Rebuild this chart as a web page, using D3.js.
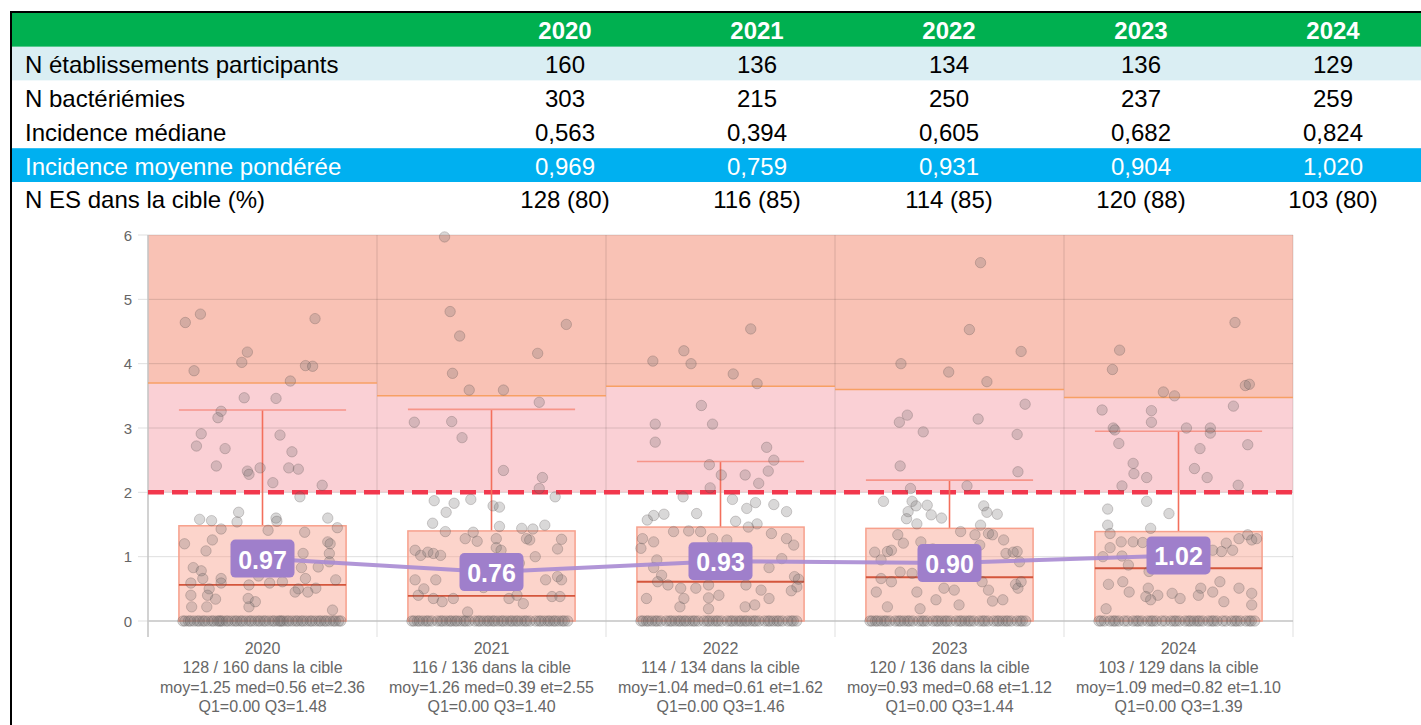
<!DOCTYPE html>
<html>
<head>
<meta charset="utf-8">
<script src="https://cdn.jsdelivr.net/npm/d3@7"></script>
<style>
  html, body { margin: 0; padding: 0; background: #fff; }
  svg { display: block; }
</style>
</head>
<body>
<svg id="chart" width="1421" height="725"></svg>
<script>
// ---- Summary table ----
const years = ["2020", "2021", "2022", "2023", "2024"];
const nEtablissements = [160, 136, 134, 136, 129];
const nBacteriemies = [303, 215, 250, 237, 259];
const incidenceMediane = [0.563, 0.394, 0.605, 0.682, 0.824];
const incidenceMoyPonderee = [0.969, 0.759, 0.931, 0.904, 1.020];
const nDansCible = [128, 116, 114, 120, 103];
const pctDansCible = [80, 85, 85, 88, 80];

// ---- Per-year distribution statistics ----
const statMoy = [1.25, 1.26, 1.04, 0.93, 1.09];
const statMed = [0.56, 0.39, 0.61, 0.68, 0.82];
const statEt = [2.36, 2.55, 1.62, 1.12, 1.10];
const statQ1 = [0.00, 0.00, 0.00, 0.00, 0.00];
const statQ3 = [1.48, 1.40, 1.46, 1.44, 1.39];
const whiskerHigh = [3.28, 3.29, 2.48, 2.19, 2.95];
const targetThreshold = 2;
const yTicks = [0, 1, 2, 3, 4, 5, 6];

// ---- Establishments (non-zero incidence): [jitter in box half-width, incidence] ----
const points2020 = [[-0.97,4.64],[-0.78,4.77],[0.66,4.70],[-0.19,4.18],[-0.26,4.02],[-0.86,3.89],[0.54,3.97],[0.63,3.96],[0.35,3.73],
  [-0.23,3.47],[0.17,3.46],[-0.52,3.26],[-0.56,3.16],[-0.77,2.91],[-0.83,2.72],[-0.47,2.68],[0.22,2.89],[0.37,2.63],[-0.58,2.41],
  [-0.19,2.33],[-0.17,2.28],[-0.03,2.38],[0.33,2.38],[0.45,2.36],[0.13,2.15],[0.75,2.11],[0.47,1.93],[-0.79,1.58],[-0.64,1.56],
  [-0.30,1.69],[-0.32,1.54],[0.17,1.60],[0.18,1.55],[0.82,1.60],[0.94,1.45],[-0.52,1.43],[0.07,1.41],[0.53,1.38],[-0.98,1.20],
  [-0.63,1.26],[-0.71,1.09],[0.82,1.23],[0.85,1.20],[0.84,1.05],[-0.87,0.83],[-0.77,0.78],[-0.75,0.66],[-0.52,0.66],[-0.52,0.59],
  [-0.90,0.59],[-0.90,0.40],[-0.89,0.22],[-0.67,0.50],[-0.69,0.40],[-0.59,0.34],[-0.70,0.22],[-0.17,0.56],[-0.18,0.35],[-0.09,0.30],
  [-0.17,0.22],[0.09,0.59],[0.25,0.61],[0.27,0.77],[0.49,0.83],[0.54,0.66],[0.45,0.50],[0.41,0.45],[0.57,0.45],[0.67,0.51],
  [0.70,0.84],[0.92,0.64],[0.88,0.17],[0.84,0.92],[0.51,1.05],[0.26,1.06],[-0.30,0.98],[-0.05,0.70]];
const points2021 = [[-0.59,5.97],[-0.52,4.81],[0.94,4.61],[-0.40,4.43],[0.58,4.16],[-0.49,3.85],[-0.28,3.59],[0.15,3.59],[0.60,3.40],
  [-0.97,3.09],[-0.50,3.10],[-0.37,2.85],[0.15,2.34],[0.64,2.23],[0.60,2.06],[0.80,1.93],[-0.72,1.87],[-0.26,1.89],[-0.47,1.83],
  [-0.57,1.69],[-0.74,1.52],[0.02,1.79],[0.10,1.77],[0.10,1.47],[0.38,1.44],[0.52,1.43],[0.67,1.49],[-0.58,1.39],[-0.23,1.38],
  [-0.33,1.28],[-0.18,1.24],[0.06,1.28],[0.06,1.14],[0.44,1.28],[0.48,1.26],[0.88,1.27],[-0.96,1.10],[-0.89,1.02],[-0.80,1.07],
  [-0.73,1.05],[-0.64,1.02],[0.83,1.12],[0.12,1.10],[-0.96,0.64],[-0.70,0.64],[0.68,0.64],[0.83,0.69],[0.88,0.64],[-0.85,0.50],
  [-0.92,0.40],[-0.73,0.35],[-0.62,0.30],[-0.48,0.35],[0.22,0.35],[0.32,0.40],[0.40,0.27],[0.76,0.38],[0.86,0.38],[-0.30,0.14],
  [0.35,0.90],[0.55,1.00],[-0.10,0.52]];
const points2022 = [[0.38,4.54],[-0.46,4.20],[-0.85,4.04],[-0.37,4.00],[0.16,3.84],[0.46,3.69],[-0.24,3.35],[-0.82,3.06],[-0.10,3.06],
  [-0.82,2.78],[0.58,2.70],[0.67,2.50],[-0.14,2.43],[0.01,2.27],[0.31,2.27],[0.60,2.33],[0.48,2.14],[-0.13,2.07],[-0.47,1.93],
  [0.15,1.89],[0.33,1.75],[0.44,1.84],[0.67,1.81],[0.83,1.70],[-0.30,1.67],[-0.71,1.66],[-0.84,1.64],[-0.92,1.57],[0.19,1.55],
  [0.46,1.51],[0.35,1.46],[-0.59,1.39],[-0.40,1.40],[-0.25,1.39],[-0.98,1.28],[-0.84,1.23],[-0.10,1.28],[0.08,1.26],[0.64,1.36],
  [0.83,1.28],[0.92,1.18],[-1.00,1.13],[-0.80,0.95],[-0.84,0.83],[-0.74,0.71],[0.61,0.83],[0.77,0.97],[0.93,0.69],[0.98,0.65],
  [0.96,0.53],[-0.79,0.61],[-0.66,0.56],[-0.50,0.51],[-0.31,0.51],[-0.15,0.56],[0.32,0.56],[0.51,0.48],[-0.93,0.35],[-0.46,0.35],
  [-0.15,0.36],[-0.02,0.40],[0.61,0.35],[-0.51,0.22],[-0.15,0.19],[0.31,0.22],[0.43,0.25],[0.89,0.47],[0.06,0.87]];
const points2023 = [[0.39,5.57],[0.25,4.53],[0.90,4.19],[-0.61,4.00],[-0.01,3.87],[0.47,3.72],[0.95,3.37],[-0.53,3.20],[-0.63,3.09],
  [0.36,3.14],[-0.33,2.94],[0.85,2.90],[-0.62,2.41],[0.86,2.32],[-0.49,2.06],[0.22,2.10],[-0.83,1.86],[-0.47,1.86],[-0.52,1.70],
  [-0.42,1.79],[-0.28,1.80],[-0.23,1.65],[-0.10,1.60],[-0.41,1.51],[-0.54,1.59],[0.43,1.79],[0.60,1.66],[0.47,1.69],[0.39,1.49],
  [0.49,1.36],[0.54,1.34],[0.68,1.26],[0.71,1.05],[0.80,1.07],[0.88,0.92],[0.85,1.08],[-0.94,1.07],[-0.86,0.95],[-0.73,1.10],
  [-0.65,1.34],[-0.78,1.08],[-0.58,1.21],[-0.36,1.23],[-0.21,1.12],[0.14,1.39],[0.32,1.34],[0.38,1.18],[-0.86,0.66],[-0.73,0.61],
  [-0.92,0.45],[-0.78,0.22],[-0.37,0.19],[-0.17,0.33],[-0.07,0.51],[0.06,0.48],[0.41,0.61],[0.49,0.48],[0.54,0.31],[0.83,0.57],
  [0.86,0.51],[0.90,0.61],[0.67,0.33],[0.12,0.25],[-0.47,0.74],[-0.62,0.76],[-0.41,0.45]];
const points2024 = [[0.71,4.64],[-0.74,4.21],[-0.83,3.91],[-0.19,3.56],[-0.05,3.50],[0.84,3.66],[0.89,3.68],[-0.96,3.28],[-0.34,3.27],
  [-0.34,3.09],[0.69,3.34],[-0.82,3.00],[0.10,3.00],[0.40,3.00],[-0.80,2.97],[0.40,2.92],[-0.75,2.76],[0.27,2.68],[0.87,2.74],
  [-0.57,2.45],[-0.56,2.29],[-0.40,2.23],[0.20,2.37],[0.36,2.23],[-0.71,2.10],[0.75,2.11],[-0.40,1.86],[-0.89,1.74],[-0.12,1.67],
  [-0.89,1.49],[-0.86,1.36],[-0.72,1.23],[-0.86,1.14],[-0.35,1.44],[-0.57,1.23],[-0.45,1.22],[0.60,1.21],[0.76,1.28],[0.87,1.34],
  [0.92,1.26],[0.98,1.28],[0.54,1.08],[0.68,1.10],[0.43,1.10],[0.29,0.92],[-0.71,1.01],[-0.95,1.00],[-0.63,0.87],[-0.37,0.77],
  [-0.88,0.57],[-0.70,0.61],[-0.62,0.45],[-0.38,0.51],[-0.26,0.40],[-0.35,0.33],[0.28,0.51],[0.25,0.40],[0.43,0.45],[0.52,0.61],
  [0.76,0.51],[0.92,0.43],[0.02,0.35],[-0.08,0.43],[-0.91,0.19],[-0.41,0.38],[0.57,0.30],[0.92,0.25]];
const pointsByYear = [points2020, points2021, points2022, points2023, points2024];
const zeroCounts = [58, 52, 50, 48, 44];

// ---- Layout ----
const svg = d3.select("#chart");
const W = 1421;
const fmtFr = (v, d) => v.toFixed(d).replace(".", ",");

// table
const colX = d3.scalePoint().domain(years).range([565, 1333]);
const rowTop = 13, rowH = 33.8;
const tableRows = [
  { label: "N établissements participants", values: nEtablissements.map(String), fill: "#daeef3", color: "#000" },
  { label: "N bactériémies", values: nBacteriemies.map(String), fill: "#ffffff", color: "#000" },
  { label: "Incidence médiane", values: incidenceMediane.map(v => fmtFr(v, 3)), fill: "#ffffff", color: "#000" },
  { label: "Incidence moyenne pondérée", values: incidenceMoyPonderee.map(v => fmtFr(v, 3)), fill: "#00b0f0", color: "#fff" },
  { label: "N ES dans la cible (%)", values: nDansCible.map((n, i) => `${n} (${pctDansCible[i]})`), fill: "#ffffff", color: "#000" }
];
const tableFont = "'Liberation Sans Narrow', 'Arial Narrow', 'Liberation Sans', Arial, sans-serif";

svg.append("rect").attr("x", 11).attr("y", rowTop).attr("width", W - 11).attr("height", rowH)
  .attr("fill", "#00b050");
svg.selectAll("text.head").data(years).join("text")
  .attr("class", "head")
  .attr("x", d => colX(d)).attr("y", rowTop + rowH / 2 + 1)
  .attr("text-anchor", "middle").attr("dominant-baseline", "central")
  .attr("font-family", tableFont).attr("font-weight", "bold").attr("font-size", 24)
  .attr("fill", "#fff").text(d => d);

const rowG = svg.selectAll("g.row").data(tableRows).join("g")
  .attr("class", "row")
  .attr("transform", (d, i) => `translate(0,${rowTop + rowH * (i + 1)})`);
rowG.append("rect").attr("x", 11).attr("y", 0).attr("width", W - 11).attr("height", rowH)
  .attr("fill", d => d.fill);
rowG.append("text").attr("x", 25).attr("y", rowH / 2 + 1)
  .attr("dominant-baseline", "central")
  .attr("font-family", tableFont).attr("font-size", 24)
  .attr("fill", d => d.color).text(d => d.label);
rowG.each(function (row) {
  d3.select(this).selectAll("text.val").data(row.values).join("text")
    .attr("class", "val")
    .attr("x", (v, i) => colX(years[i])).attr("y", rowH / 2 + 1)
    .attr("text-anchor", "middle").attr("dominant-baseline", "central")
    .attr("font-family", tableFont).attr("font-size", 24)
    .attr("fill", row.color).text(v => v);
});
// table border
svg.append("line").attr("x1", 10).attr("x2", W).attr("y1", 12).attr("y2", 12)
  .attr("stroke", "#000").attr("stroke-width", 2);
svg.append("line").attr("x1", 11).attr("x2", 11).attr("y1", 11).attr("y2", 725)
  .attr("stroke", "#000").attr("stroke-width", 2);

// ---- Chart ----
const plot = { left: 148, right: 1293, top: 235, bottom: 621 };
const x = d3.scaleBand().domain(years).range([plot.left, plot.right]).padding(0);
const y = d3.scaleLinear().domain([0, 6]).range([plot.bottom, plot.top]);
const boxW = x.bandwidth() * 0.73;
const cx = yr => x(yr) + x.bandwidth() / 2;
const g = svg.append("g");

const fences = statQ3.map((q3, i) => q3 + 1.5 * (q3 - statQ1[i]));

// background zones: pink between target and fence, salmon above fence
years.forEach((yr, i) => {
  g.append("rect").attr("x", x(yr)).attr("width", x.bandwidth())
    .attr("y", y(fences[i])).attr("height", y(targetThreshold) - y(fences[i]))
    .attr("fill", "#fad0d5");
  g.append("rect").attr("x", x(yr)).attr("width", x.bandwidth())
    .attr("y", y(6)).attr("height", y(fences[i]) - y(6))
    .attr("fill", "#f9c2b5");
});

// gridlines
g.selectAll("line.hgrid").data(yTicks).join("line")
  .attr("class", "hgrid")
  .attr("x1", plot.left - 10).attr("x2", plot.right)
  .attr("y1", d => y(d)).attr("y2", d => y(d))
  .attr("stroke", "rgba(0,0,0,0.13)").attr("stroke-width", 1);
const bounds = years.map(yr => x(yr)).concat([plot.right]);
g.selectAll("line.vgrid").data(bounds).join("line")
  .attr("class", "vgrid")
  .attr("x1", d => d).attr("x2", d => d)
  .attr("y1", y(6)).attr("y2", plot.bottom + 16)
  .attr("stroke", "rgba(0,0,0,0.13)").attr("stroke-width", 1);
g.append("line").attr("x1", plot.left).attr("x2", plot.right)
  .attr("y1", plot.bottom).attr("y2", plot.bottom)
  .attr("stroke", "#c8c8c8").attr("stroke-width", 1.5);
g.append("line").attr("x1", plot.left).attr("x2", plot.left)
  .attr("y1", y(6)).attr("y2", plot.bottom + 16)
  .attr("stroke", "#c8c8c8").attr("stroke-width", 1.5);

// y tick labels
g.selectAll("text.ytick").data(yTicks).join("text")
  .attr("class", "ytick")
  .attr("x", 132).attr("y", d => y(d))
  .attr("text-anchor", "end").attr("dominant-baseline", "central")
  .attr("font-family", "'Liberation Sans', Arial, sans-serif").attr("font-size", 15)
  .attr("fill", "#666").text(d => d);

// fence lines
years.forEach((yr, i) => {
  g.append("line").attr("x1", x(yr)).attr("x2", x(yr) + x.bandwidth())
    .attr("y1", y(fences[i])).attr("y2", y(fences[i]))
    .attr("stroke", "#f7a064").attr("stroke-width", 1.5);
});

// target line
g.append("line").attr("x1", plot.left).attr("x2", plot.right)
  .attr("y1", y(targetThreshold)).attr("y2", y(targetThreshold))
  .attr("stroke", "#f2374d").attr("stroke-width", 4.5)
  .attr("stroke-dasharray", "16,8");

// boxes and whiskers
years.forEach((yr, i) => {
  const c = cx(yr);
  g.append("line").attr("x1", c).attr("x2", c)
    .attr("y1", y(statQ3[i])).attr("y2", y(whiskerHigh[i]))
    .attr("stroke", "#f36f5c").attr("stroke-width", 1.6);
  g.append("line").attr("x1", c - boxW / 2).attr("x2", c + boxW / 2)
    .attr("y1", y(whiskerHigh[i])).attr("y2", y(whiskerHigh[i]))
    .attr("stroke", "#f6958a").attr("stroke-width", 1.6);
  g.append("rect").attr("x", c - boxW / 2).attr("width", boxW)
    .attr("y", y(statQ3[i])).attr("height", y(statQ1[i]) - y(statQ3[i]))
    .attr("fill", "rgba(249,160,140,0.45)").attr("stroke", "#f7a08c").attr("stroke-width", 1.5);
  g.append("line").attr("x1", c - boxW / 2).attr("x2", c + boxW / 2)
    .attr("y1", y(statMed[i])).attr("y2", y(statMed[i]))
    .attr("stroke", "#d4563c").attr("stroke-width", 1.8);
});

// establishment points
const golden = 0.6180339887;
years.forEach((yr, i) => {
  const c = cx(yr);
  const zeros = d3.range(zeroCounts[i]).map(k => [((k * golden) % 1) * 2 - 1, 0]);
  const pts = zeros.concat(pointsByYear[i]);
  g.selectAll(null).data(pts).join("circle")
    .attr("cx", d => c + d[0] * (boxW / 2 - 4))
    .attr("cy", d => y(d[1]))
    .attr("r", 5.2)
    .attr("fill", "rgba(115,110,110,0.27)")
    .attr("stroke", "rgba(80,70,70,0.25)")
    .attr("stroke-width", 1);
});

// weighted mean line with value labels
const meanLine = d3.line().x((d, i) => cx(years[i])).y(d => y(+d.toFixed(2)));
g.append("path").datum(incidenceMoyPonderee)
  .attr("d", meanLine)
  .attr("fill", "none").attr("stroke", "#a88bd3").attr("stroke-width", 4).attr("stroke-opacity", 0.9);
const lab = g.selectAll("g.meanlab").data(incidenceMoyPonderee).join("g")
  .attr("class", "meanlab")
  .attr("transform", (d, i) => `translate(${cx(years[i])},${y(+d.toFixed(2))})`);
lab.append("rect").attr("x", -32).attr("y", -19).attr("width", 64).attr("height", 38)
  .attr("rx", 5).attr("fill", "#9f7fcb");
lab.append("text").attr("y", 1)
  .attr("text-anchor", "middle").attr("dominant-baseline", "central")
  .attr("font-family", "'Liberation Sans', Arial, sans-serif").attr("font-weight", "bold")
  .attr("font-size", 25).attr("fill", "#fff").text(d => d.toFixed(2));

// category labels
years.forEach((yr, i) => {
  const lines = [
    yr,
    `${nDansCible[i]} / ${nEtablissements[i]} dans la cible`,
    `moy=${statMoy[i].toFixed(2)} med=${statMed[i].toFixed(2)} et=${statEt[i].toFixed(2)}`,
    `Q1=${statQ1[i].toFixed(2)} Q3=${statQ3[i].toFixed(2)}`
  ];
  g.selectAll(null).data(lines).join("text")
    .attr("x", cx(yr)).attr("y", (d, k) => 648 + k * 19.5)
    .attr("text-anchor", "middle").attr("dominant-baseline", "central")
    .attr("font-family", "'Liberation Sans', Arial, sans-serif").attr("font-size", 16)
    .attr("fill", "#666").text(d => d);
});
</script>
</body>
</html>
